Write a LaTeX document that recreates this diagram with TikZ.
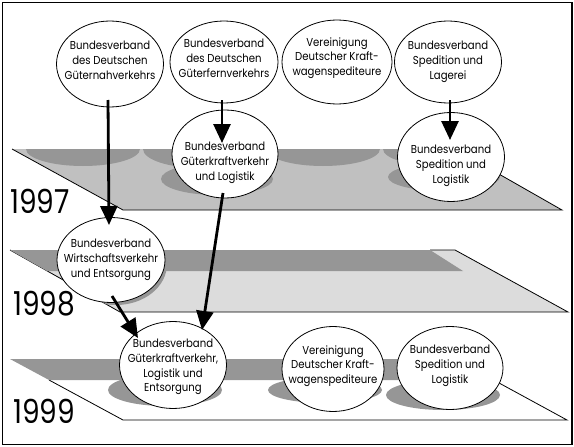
\documentclass[tikz,border=0pt]{standalone}
\usepackage{fontspec}
\setmainfont{Poppins}[FakeStretch=0.88]
\newfontfamily\yrfont{Poppins}[FakeStretch=0.85]
\usetikzlibrary{shapes.geometric,arrows.meta,calc}
\definecolor{pl97}{HTML}{C0C0C0}
\definecolor{pl98}{HTML}{DCDCDC}
\definecolor{shd}{HTML}{969696}
\begin{document}
\begin{tikzpicture}[x=1pt,y=-1pt,
  ell/.style={ellipse, draw=black, line width=0.8pt, fill=white, minimum width=107pt, minimum height=86pt, inner sep=0pt},
  txt/.style={align=center, font=\fontsize{11.5}{14.8}\selectfont, inner sep=0pt},
  yr/.style={anchor=base west, font=\yrfont\fontsize{33}{33}\selectfont, inner sep=0pt},
  arr/.style={line width=2.8pt, -{Triangle[length=19pt,width=17pt]}},
  plane/.style={draw=black, line width=0.8pt},
  shadow/.style={fill=shd}]
\useasboundingbox (0,0) rectangle (574,447);
\draw[line width=1.2pt] (2.5,2.5) rectangle (572,444.5);

% ---------- plane 1997
\fill[pl97] (12,149) -- (455,149) -- (562,210) -- (123,210) -- cycle;
\begin{scope}
  \clip (12,149) -- (455,149) -- (562,210) -- (123,210) -- cycle;
  \fill[shadow] (83,149) ellipse [x radius=57pt, y radius=17pt];
  \fill[shadow] (200,149) ellipse [x radius=57pt, y radius=19pt];
  \fill[shadow] (323,149) ellipse [x radius=57pt, y radius=17pt];
  \fill[shadow] (440,149) ellipse [x radius=57pt, y radius=17pt];
  \fill[shadow] (217,179) ellipse [x radius=56pt, y radius=16pt];
  \fill[shadow] (444,177) ellipse [x radius=56pt, y radius=14pt];
\end{scope}
\draw[plane] (12,149) -- (123,210) -- (562,210) -- (455,149);

% ---------- plane 1998
\fill[pl98] (10,250) -- (455,250) -- (568,312) -- (120,312) -- cycle;
\draw[plane] (10,250) -- (120,312) -- (568,312) -- (455,250) -- (430,250);
\fill[shd] (10,250) -- (430,250) -- (463,271) -- (47,271) -- cycle;
\begin{scope}
  \clip (10,250) -- (455,250) -- (568,312) -- (120,312) -- cycle;
  \fill[shadow] (116,264) ellipse [x radius=51pt, y radius=41pt];
\end{scope}

% ---------- plane 1999
\draw[plane] (49,380) -- (123,420) -- (567,420) -- (455,359) -- (430,359);
\fill[shd] (10,359) -- (430,359) -- (463,380) -- (49,380) -- cycle;
\fill[shadow] (165,390) ellipse [x radius=57pt, y radius=16pt];
\fill[shadow] (325,390) ellipse [x radius=57pt, y radius=13pt];
\fill[shadow] (443,395) ellipse [x radius=57pt, y radius=15pt];

% ---------- ellipses
\node[ell] (e1) at (110,64) {};
\node[ell, minimum width=108pt, minimum height=82pt] (e2) at (224,62) {};
\node[ell, minimum width=110pt, minimum height=84pt] (e3) at (337,62) {};
\node[ell, minimum height=82pt] (e4) at (448,62) {};
\node[ell, minimum width=106pt, minimum height=88pt] (e5) at (225,154) {};
\node[ell, minimum height=89pt] (e6) at (451,157) {};
\node[ell, minimum width=108pt, minimum height=85pt] (e7) at (111,260) {};
\node[ell, minimum height=87pt] (e8) at (173,365) {};
\node[ell, minimum width=102pt, minimum height=85pt] (e9) at (333,369) {};
\node[ell, minimum width=106pt, minimum height=83pt] (e10) at (450,368) {};

\node[txt] (t1) at ($(e1.center)+(0,-4)$) {Bundesverband\\des Deutschen\\Güternahverkehrs};
\node[txt] (t2) at ($(e2.center)+(0,-4)$) {Bundesverband\\des Deutschen\\Güterfernverkehrs};
\node[txt] (t3) at ($(e3.center)+(0,-4)$) {Vereinigung\\Deutscher Kraft-\\wagenspediteure};
\node[txt] (t4) at ($(e4.center)+(0,0)$) {Bundesverband\\Spedition und\\Lagerei};
\node[txt] (t5) at ($(e5.center)+(0,9)$) {Bundesverband\\Güterkraftverkehr\\und Logistik};
\node[txt] (t6) at ($(e6.center)+(0,9)$) {Bundesverband\\Spedition und\\Logistik};
\node[txt] (t7) at ($(e7.center)+(0,0)$) {Bundesverband\\Wirtschaftsverkehr\\und Entsorgung};
\node[txt] (t8) at ($(e8.center)+(0,2)$) {Bundesverband\\Güterkraftverkehr,\\Logistik und\\Entsorgung};
\node[txt] (t9) at ($(e9.center)+(0,-3)$) {Vereinigung\\Deutscher Kraft-\\wagenspediteure};
\node[txt] (t10) at ($(e10.center)+(0,-2)$) {Bundesverband\\Spedition und\\Logistik};

% ---------- arrows
\draw[arr] ($(e1.center)+(-2,36)$) -- ($(e7.center)+(-2,-35)$);
\draw[arr] ($(e2.center)+(-2,38)$) -- ($(e5.center)+(-3,-11)$);
\draw[arr] ($(e4.center)+(2,38)$) -- ($(e6.center)+(-1,-17)$);
\draw[arr] ($(e5.center)+(-2,39)$) -- ($(e8.center)+(29,-35)$);
\draw[arr] ($(e7.center)+(1,36)$) -- ($(e8.center)+(-35,-27)$);

% ---------- years
\node[yr] (y97) at (10,213) {1997};
\node[yr] (y98) at (13,315) {1998};
\node[yr] (y99) at (13,423) {1999};
\end{tikzpicture}
\end{document}
